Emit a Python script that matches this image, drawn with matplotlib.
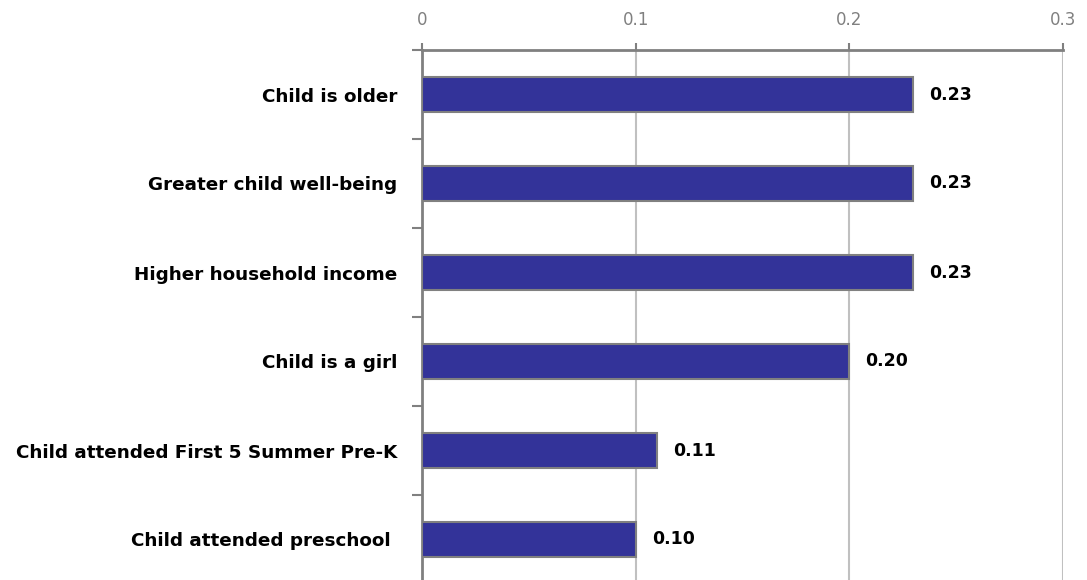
import matplotlib
matplotlib.use("Agg")
import matplotlib.pyplot as plt
import numpy as np

categories = ["Child is older", "Greater child well-being", "Higher household income",
              "Child is a girl", "Child attended First 5 Summer Pre-K", "Child attended preschool "]
values = [0.23, 0.23, 0.23, 0.20, 0.11, 0.10]
value_labels = ["0.23", "0.23", "0.23", "0.20", "0.11", "0.10"]
xticks = [0, 0.1, 0.2, 0.3]
xtick_labels = ["0", "0.1", "0.2", "0.3"]

W, H = 1087, 580
fig = plt.figure(figsize=(W / 100, H / 100), dpi=100)
left, right, top, bottom = 422, 1063, 50, 584
ax = fig.add_axes([left / W, 1 - bottom / H, (right - left) / W, (bottom - top) / H])

n = len(categories)
y = np.arange(n)
ax.barh(y, values, height=0.4, color="#333399", edgecolor="#808080", linewidth=1.5, zorder=3)
ax.set_ylim(n - 0.5, -0.5)
ax.set_xlim(0, 0.3)

ax.xaxis.tick_top()
ax.set_xticks(xticks)
ax.set_xticklabels(xtick_labels, color="#808080", fontsize=12)
ax.tick_params(axis="x", direction="out", length=5, color="#808080", width=1.5, pad=10)
ax.grid(axis="x", color="#c0c0c0", linewidth=1.5, zorder=0)

ax.set_yticks(y)
ax.set_yticklabels(categories, fontsize=13.2, fontweight="bold", color="black")
ax.tick_params(axis="y", length=0, pad=18)
ax.set_yticks(np.arange(n + 1) - 0.5, minor=True)
ax.tick_params(axis="y", which="minor", direction="out", length=7, color="#808080", width=1.5)

for s in ["right", "bottom"]:
    ax.spines[s].set_visible(False)
for s in ["top", "left"]:
    ax.spines[s].set_color("#808080")
    ax.spines[s].set_linewidth(2)

for yi, v, lab in zip(y, values, value_labels):
    ax.annotate(lab, (v, yi), xytext=(16, 0), textcoords="offset pixels",
                va="center", ha="left", fontsize=12.5, fontweight="bold", color="black")

fig.savefig("out.png", dpi=100)
